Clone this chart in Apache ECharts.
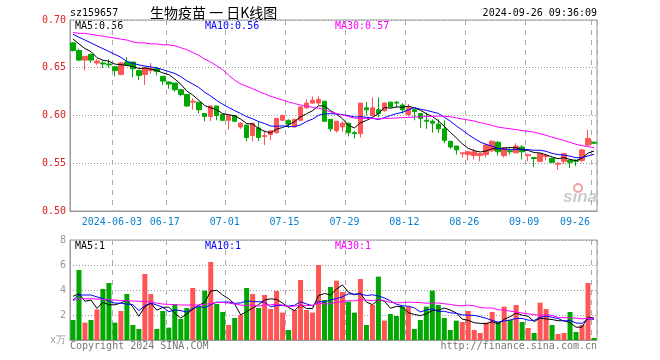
<!DOCTYPE html>
<html><head><meta charset="utf-8">
<script src="https://cdn.jsdelivr.net/npm/echarts/dist/echarts.min.js"></script>
<style>html,body{margin:0;padding:0;background:#fff}#c{width:660px;height:360px}</style>
</head><body><div id="c"></div>
<script>
const dates = ['05-23','05-24','05-27','05-28','05-29','05-30','05-31',
 '06-03','06-04','06-05','06-06','06-07','06-11','06-12','06-13','06-14','06-17','06-18','06-19','06-20','06-21','06-24','06-25','06-26','06-27','06-28',
 '07-01','07-02','07-03','07-04','07-05','07-08','07-09','07-10','07-11','07-12','07-15','07-16','07-17','07-18','07-19','07-22','07-23','07-24','07-25','07-26','07-29','07-30','07-31',
 '08-01','08-02','08-05','08-06','08-07','08-08','08-09','08-12','08-13','08-14','08-15','08-16','08-19','08-20','08-21','08-22','08-23','08-26','08-27','08-28','08-29','08-30',
 '09-02','09-03','09-04','09-05','09-06','09-09','09-10','09-11','09-12','09-13','09-18','09-19','09-20','09-23','09-24','09-25','09-26'];
const tickDates = ['06-03','06-17','07-01','07-15','07-29','08-12','08-26','09-09','09-26'];
const tickLabels = ['2024-06-03','06-17','07-01','07-15','07-29','08-12','08-26','09-09','09-26'];

const open = [0.676,0.668,0.658,0.664,0.655,0.655,0.654,0.651,0.643,0.656,
 0.656,0.647,0.643,0.647,0.649,0.641,0.635,0.634,0.627,0.622,
 0.614,0.614,0.602,0.599,0.610,0.601,0.595,0.600,0.588,0.590,
 0.579,0.587,0.578,0.580,0.582,0.595,0.595,0.588,0.595,0.608,
 0.613,0.613,0.615,0.596,0.584,0.588,0.592,0.582,0.581,0.608,
 0.600,0.606,0.605,0.614,0.614,0.611,0.601,0.606,0.602,0.595,
 0.594,0.591,0.586,0.573,0.568,0.560,0.559,0.558,0.558,0.559,
 0.563,0.572,0.558,0.563,0.561,0.567,0.558,0.556,0.552,0.557,
 0.555,0.549,0.552,0.553,0.553,0.553,0.569,0.572];
const close = [0.668,0.658,0.662,0.658,0.657,0.654,0.653,0.647,0.655,0.653,
 0.649,0.642,0.650,0.649,0.646,0.636,0.633,0.627,0.622,0.610,
 0.615,0.606,0.599,0.610,0.600,0.595,0.600,0.594,0.592,0.577,
 0.592,0.577,0.579,0.584,0.597,0.600,0.591,0.596,0.609,0.613,
 0.616,0.617,0.594,0.586,0.594,0.592,0.582,0.581,0.613,0.606,
 0.608,0.602,0.613,0.609,0.613,0.606,0.608,0.604,0.597,0.594,
 0.592,0.586,0.574,0.567,0.564,0.561,0.562,0.562,0.560,0.569,
 0.573,0.562,0.566,0.562,0.568,0.562,0.559,0.555,0.560,0.558,
 0.551,0.550,0.560,0.551,0.552,0.564,0.576,0.571];
const low = [0.667,0.657,0.647,0.655,0.653,0.650,0.650,0.641,0.642,0.652,
 0.640,0.637,0.632,0.644,0.642,0.632,0.628,0.625,0.620,0.609,
 0.606,0.602,0.594,0.594,0.595,0.594,0.585,0.593,0.586,0.573,
 0.573,0.573,0.569,0.574,0.581,0.594,0.587,0.587,0.594,0.607,
 0.612,0.611,0.593,0.583,0.582,0.583,0.578,0.576,0.577,0.600,
 0.599,0.598,0.604,0.608,0.608,0.602,0.599,0.595,0.587,0.586,
 0.582,0.582,0.571,0.565,0.559,0.556,0.553,0.554,0.552,0.556,
 0.562,0.558,0.556,0.559,0.560,0.554,0.552,0.546,0.551,0.553,
 0.550,0.543,0.549,0.545,0.547,0.551,0.568,0.570];
const high = [0.677,0.670,0.662,0.665,0.659,0.657,0.659,0.651,0.656,0.661,
 0.656,0.648,0.650,0.655,0.651,0.641,0.636,0.634,0.628,0.622,
 0.618,0.614,0.602,0.610,0.610,0.601,0.600,0.600,0.593,0.590,
 0.592,0.594,0.584,0.584,0.597,0.601,0.596,0.596,0.610,0.617,
 0.620,0.620,0.615,0.596,0.594,0.594,0.592,0.584,0.613,0.614,
 0.619,0.619,0.614,0.614,0.615,0.613,0.612,0.607,0.602,0.603,
 0.596,0.596,0.595,0.573,0.568,0.561,0.563,0.565,0.561,0.571,
 0.574,0.573,0.567,0.566,0.571,0.569,0.560,0.556,0.560,0.560,
 0.556,0.551,0.561,0.554,0.554,0.565,0.585,0.573];
// volume, unit: 万
const volume = [1.60,5.60,1.39,1.60,2.45,4.08,4.56,1.39,2.32,3.68,
 1.20,0.88,5.28,3.68,0.88,2.32,0.99,2.88,1.68,2.56,
 4.16,2.67,3.95,6.24,2.88,2.24,1.20,1.76,2.00,4.16,
 3.68,2.56,3.60,2.48,3.92,2.19,0.80,2.40,4.80,2.40,
 2.19,6.00,3.20,4.24,4.75,3.84,3.07,2.19,4.88,1.20,
 2.80,5.07,1.55,2.08,1.92,2.67,2.67,0.88,1.60,2.67,
 3.95,2.80,1.76,0.80,1.55,1.44,2.32,0.80,0.56,1.39,
 2.24,1.44,2.67,1.60,2.80,1.44,0.96,0.56,2.99,2.48,
 1.20,0.48,0.56,2.24,0.64,1.20,4.56,0.16];
// moving-average values at the left edge (their windows start before the first visible day)
const ma5Head = [0.680,0.675,0.670,0.667];
const ma10Head = [0.685,0.682,0.679,0.676,0.673,0.670,0.667,0.664,0.661];
const ma30Head = [0.687,0.686,0.686,0.685,0.684,0.683,0.682,0.681,0.680,0.679,
 0.677,0.676,0.676,0.675,0.675,0.674,0.674,0.673,0.671,0.669,
 0.666,0.663,0.659,0.656,0.652,0.648,0.642,0.637,0.633];
const vma5Head = [3.5,3.7,3.1,3.2];
const vma10Head = [3.2,3.6,3.6,3.6,3.45,3.3,3.1,2.95,2.95];
const vma30Head = [3.15,3.3,3.3,3.3,3.28,3.25,3.22,3.2,3.15,3.15,
 3.12,3.1,3.07,3.05,2.95,2.88,2.85,2.82,2.8,2.8,
 2.8,2.8,2.85,2.93,3.0,3.0,2.95,2.88,2.8];
const priceLegend = ['MA5:0.56','MA10:0.56','MA30:0.57'];
const volLegend = ['MA5:1','MA10:1','MA30:1'];
const titleCode = 'sz159657';
const titleName = '生物疫苗 一 日K线图';
const stamp = '2024-09-26 09:36:09';

const UP = '#ff5555', DOWN = '#00a800';
function movingAvg(arr, n, head) {
  return arr.map((_, i) => {
    if (i < n - 1) return head[i];
    let s = 0; for (let k = i - n + 1; k <= i; k++) s += arr[k];
    return +(s / n).toFixed(4);
  });
}
const candle = dates.map((d, i) => [open[i], close[i], low[i], high[i]]);
const volData = volume.map((v, i) => ({ value: v, itemStyle: { color: close[i] >= open[i] ? UP : DOWN } }));
const tickIdx = tickDates.map(d => dates.indexOf(d));
const lastIdx = dates.length - 1;
const mono = 'DejaVu Sans Mono';
const dash = { color: '#aaa', width: 1, type: [5, 5] };
const dot = { color: '#999', width: 1, type: [1, 2] };
const isTick = (i) => tickIdx.indexOf(i) >= 0;

const chart = echarts.init(document.getElementById('c'));
const txt = (text, x, y, color, align, font) => ({
  type: 'text', x: x, y: y, silent: true,
  style: { text: text, fill: color, font: font || ('10px "' + mono + '"'), textAlign: align || 'left', align: align || 'left', textVerticalAlign: 'middle', verticalAlign: 'middle' }
});
chart.setOption({
  animation: false,
  backgroundColor: '#fff',
  grid: [
    { left: 70, top: 20, width: 527, height: 191, show: true, borderColor: '#999', borderWidth: 1, backgroundColor: 'transparent' },
    { left: 70, top: 240, width: 527, height: 100, show: true, borderColor: '#999', borderWidth: 1, backgroundColor: 'transparent' }
  ],
  xAxis: [
    { type: 'category', gridIndex: 0, data: dates, boundaryGap: true,
      axisLine: { lineStyle: { color: '#999' } }, axisTick: { show: false },
      splitLine: { show: true, interval: (i) => isTick(i), lineStyle: dash },
      axisLabel: { interval: (i) => isTick(i), margin: 6,
        formatter: (v, i) => { const k = tickIdx.indexOf(i); const lab = k >= 0 ? tickLabels[k] : v; return i === lastIdx ? '{e|' + lab + '}' : (k === 0 ? '{f|' + lab + '}' : '{n|' + lab + '}'); },
        rich: {
          n: { color: '#0a82d2', fontFamily: mono, fontSize: 10, padding: [0, 8, 0, 0] },
          f: { color: '#0a82d2', fontFamily: mono, fontSize: 10, padding: [0, 6, 0, 0] },
          e: { color: '#0a82d2', fontFamily: mono, fontSize: 10, padding: [0, 38, 0, 0] }
        } } },
    { type: 'category', gridIndex: 1, data: dates, boundaryGap: true,
      axisLine: { lineStyle: { color: '#999' } }, axisTick: { show: false }, axisLabel: { show: false },
      splitLine: { show: true, interval: (i) => isTick(i), lineStyle: dash } }
  ],
  yAxis: [
    { type: 'value', gridIndex: 0, min: 0.5, max: 0.7, interval: 0.05,
      axisLine: { show: true, lineStyle: { color: '#999' } }, axisTick: { show: false },
      axisLabel: { color: '#e02020', fontFamily: mono, fontSize: 10, margin: 4, formatter: (v) => v.toFixed(2) },
      splitLine: { show: true, lineStyle: dot } },
    { type: 'value', gridIndex: 1, min: 0, max: 8, interval: 2,
      axisLine: { show: true, lineStyle: { color: '#999' } }, axisTick: { show: false },
      axisLabel: { color: '#999', fontFamily: mono, fontSize: 10, margin: 4, formatter: (v) => v === 0 ? 'x万' : String(v) },
      splitLine: { show: true, lineStyle: dot } }
  ],
  series: [
    { type: 'candlestick', xAxisIndex: 0, yAxisIndex: 0, data: candle, barWidth: 5,
      itemStyle: { color: UP, color0: DOWN, borderColor: UP, borderColor0: DOWN, borderWidth: 1 } },
    { type: 'line', xAxisIndex: 0, yAxisIndex: 0, data: movingAvg(close, 5, ma5Head), showSymbol: false, lineStyle: { color: '#000', width: 1 } },
    { type: 'line', xAxisIndex: 0, yAxisIndex: 0, data: movingAvg(close, 10, ma10Head), showSymbol: false, lineStyle: { color: '#0000ff', width: 1 } },
    { type: 'line', xAxisIndex: 0, yAxisIndex: 0, data: movingAvg(close, 30, ma30Head), showSymbol: false, lineStyle: { color: '#ff00ff', width: 1 } },
    { type: 'bar', xAxisIndex: 1, yAxisIndex: 1, data: volData, barWidth: 5 },
    { type: 'line', xAxisIndex: 1, yAxisIndex: 1, data: movingAvg(volume, 5, vma5Head), showSymbol: false, lineStyle: { color: '#000', width: 1 } },
    { type: 'line', xAxisIndex: 1, yAxisIndex: 1, data: movingAvg(volume, 10, vma10Head), showSymbol: false, lineStyle: { color: '#0000ff', width: 1 } },
    { type: 'line', xAxisIndex: 1, yAxisIndex: 1, data: movingAvg(volume, 30, vma30Head), showSymbol: false, lineStyle: { color: '#ff00ff', width: 1 } }
  ],
  graphic: [
    txt(titleCode, 70, 13, '#000'),
    txt(titleName, 150, 13, '#000', 'left', '14px "Noto Sans CJK SC"'),
    txt(stamp, 597, 13, '#000', 'right'),
    txt(priceLegend[0], 75, 26, '#000'),
    txt(priceLegend[1], 205, 26, '#0000ff'),
    txt(priceLegend[2], 335, 26, '#ff00ff'),
    txt(volLegend[0], 75, 246, '#000'),
    txt(volLegend[1], 205, 246, '#0000ff'),
    txt(volLegend[2], 335, 246, '#ff00ff'),
    txt('Copyright 2024 SINA.COM', 70, 346, '#777'),
    txt('http://finance.sina.com.cn', 597, 346, '#777', 'right'),
    { type: 'circle', silent: true, shape: { cx: 578, cy: 188, r: 4 }, style: { fill: 'none', stroke: '#f4a0a0', lineWidth: 2 } },
    txt('sina', 597, 197, '#cccccc', 'right', 'italic bold 17px "Liberation Sans"')
  ]
});
</script></body></html>
